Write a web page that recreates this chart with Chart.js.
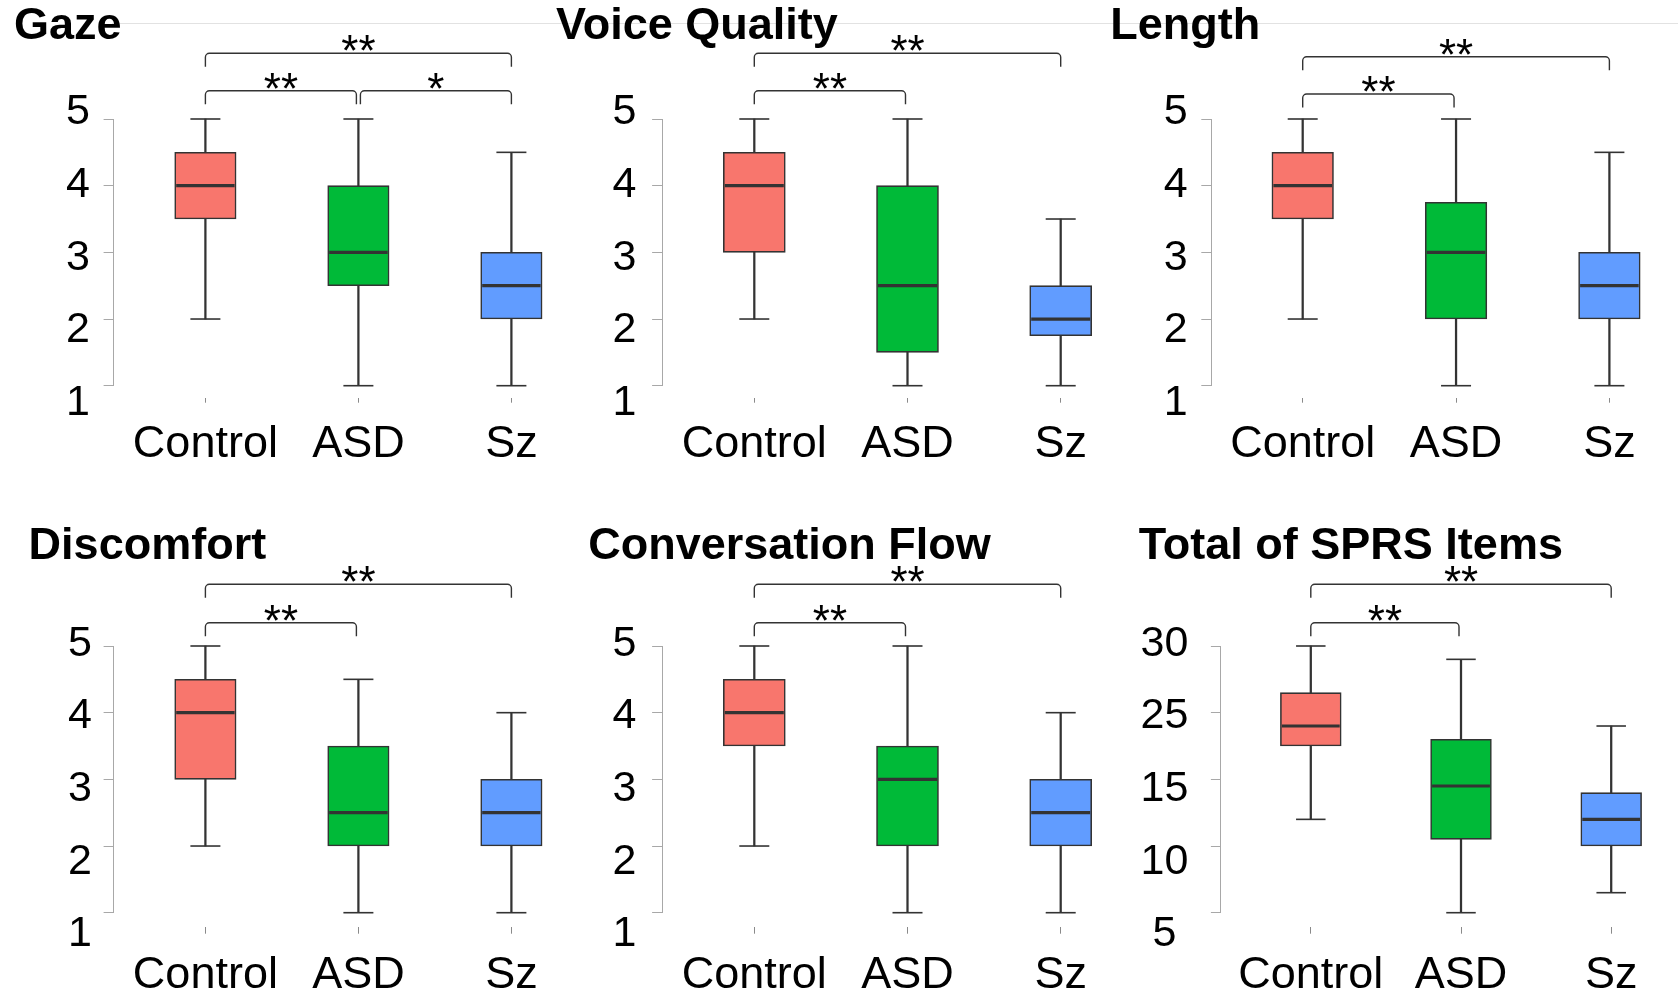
<!DOCTYPE html>
<html>
<head>
<meta charset="utf-8">
<script src="https://cdn.jsdelivr.net/npm/chart.js@4.4.1/dist/chart.umd.min.js"></script>
<style>
  body { margin: 0; background: #fff; width: 1678px; height: 999px; overflow: hidden; position: relative; }
  .cell { position: absolute; }
  .rule { position: absolute; left: 112px; top: 23px; width: 1566px; height: 1px; background: #e2e2e2; }
</style>
</head>
<body>
<div class="rule"></div>
<script>
// groups on the x axis
const groups = ['Control', 'ASD', 'Sz'];

// box summaries per group: [min, q1, median, q3, max]
const gaze = [[2, 3.5, 4, 4.5, 5], [1, 2.5, 3, 4, 5], [1, 2, 2.5, 3, 4.5]];
const voice = [[2, 3, 4, 4.5, 5], [1, 1.5, 2.5, 4, 5], [1, 1.75, 2, 2.5, 3.5]];
const length = [[2, 3.5, 4, 4.5, 5], [1, 2, 3, 3.75, 5], [1, 2, 2.5, 3, 4.5]];
const discomfort = [[2, 3, 4, 4.5, 5], [1, 2, 2.5, 3.5, 4.5], [1, 2, 2.5, 3, 4]];
const flow = [[2, 3.5, 4, 4.5, 5], [1, 2, 3, 3.5, 5], [1, 2, 2.5, 3, 4]];
const sprs = [[17, 22.5, 24, 26.5, 30], [10, 15.5, 19.5, 23, 29], [11.5, 15, 17, 19, 24]];

// significance brackets: [from group, to group, mark]
const gazeSig = [[0, 1, '**'], [1, 2, '*'], [0, 2, '**']];
const voiceSig = [[0, 1, '**'], [0, 2, '**']];
const lengthSig = [[0, 1, '**'], [0, 2, '**']];
const discomfortSig = [[0, 1, '**'], [0, 2, '**']];
const flowSig = [[0, 1, '**'], [0, 2, '**']];
const sprsSig = [[0, 1, '**'], [0, 2, '**']];

// y ticks (the SPRS labels are printed as in the original figure)
const scoreTicks = [5, 4, 3, 2, 1];
const scoreTickLabels = ['5', '4', '3', '2', '1'];
const sprsTicks = [30, 25, 20, 15, 10];
const sprsTickLabels = ['30', '25', '15', '10', '5'];

const boxColors = ['#F8766D', '#00BA38', '#619CFF'];
const ink = '#333333';
const FONT = '"Liberation Sans", Arial, Helvetica, sans-serif';
Chart.defaults.font.family = FONT;

const TITLE_SIZE = 45;
const X_H = 80;

const rows = [
  { titleBase: 42, tickGap: 12, tickLen: 5, labOff: -6.5 },
  { titleBase: 561.7, tickGap: 14, tickLen: 7, labOff: -2 }
];

const panels = [
  { title: 'Gaze', stats: gaze, sig: gazeSig, ticks: scoreTicks, labels: scoreTickLabels, row: 0,
    cell: [0, 0, 560, 500], titleX: 14, axisX: 113.6, cat0: 205.4, cat2: 511.4, top: 119, bottom: 385.7,
    labCX: 78, boxW: 61.4, capW: 30, brk: [28.3, 65.7] },
  { title: 'Voice Quality', stats: voice, sig: voiceSig, ticks: scoreTicks, labels: scoreTickLabels, row: 0,
    cell: [545, 0, 565, 500], titleX: 556, axisX: 662.1, cat0: 754.3, cat2: 1060.7, top: 119, bottom: 385.7,
    labCX: 624.5, boxW: 62, capW: 30, brk: [28.3, 65.7] },
  { title: 'Length', stats: length, sig: lengthSig, ticks: scoreTicks, labels: scoreTickLabels, row: 0,
    cell: [1100, 0, 578, 500], titleX: 1110.3, axisX: 1211.3, cat0: 1302.7, cat2: 1609.4, top: 119, bottom: 385.7,
    labCX: 1175.6, boxW: 61.6, capW: 30, brk: [25, 62.3] },
  { title: 'Discomfort', stats: discomfort, sig: discomfortSig, ticks: scoreTicks, labels: scoreTickLabels, row: 1,
    cell: [0, 500, 560, 499], titleX: 28.6, axisX: 113.6, cat0: 205.4, cat2: 511.4, top: 646, bottom: 912.7,
    labCX: 80, boxW: 61.4, capW: 30, brk: [23.3, 61.7] },
  { title: 'Conversation Flow', stats: flow, sig: flowSig, ticks: scoreTicks, labels: scoreTickLabels, row: 1,
    cell: [545, 500, 565, 499], titleX: 588.2, axisX: 662.1, cat0: 754.3, cat2: 1060.7, top: 646, bottom: 912.7,
    labCX: 624.5, boxW: 62, capW: 30, brk: [23.3, 61.7] },
  { title: 'Total of SPRS Items', stats: sprs, sig: sprsSig, ticks: sprsTicks, labels: sprsTickLabels, row: 1,
    cell: [1100, 500, 578, 499], titleX: 1138.7, axisX: 1220.9, cat0: 1310.8, cat2: 1611.2, top: 646, bottom: 912.7,
    labCX: 1164.5, boxW: 60.8, capW: 29.5, brk: [23.3, 61.7] }
];

// y tick labels (slightly spread, as in the source) and significance brackets
const extras = {
  id: 'extras',
  afterDraw(chart, args, o) {
    const { ctx, chartArea, scales: { x, y } } = chart;
    ctx.save();
    ctx.fillStyle = '#000';
    ctx.font = '43px ' + FONT;
    ctx.textAlign = 'center';
    ctx.textBaseline = 'middle';
    o.ticks.forEach((v, k) => {
      const py = y.getPixelForValue(v);
      const ly = chartArea.top + o.labOff + (py - chartArea.top) * 1.089;
      ctx.fillText(o.labels[k], o.labCX, ly);
    });

    ctx.strokeStyle = ink;
    ctx.lineWidth = 1.4;
    ctx.font = '44px ' + FONT;
    ctx.textBaseline = 'alphabetic';
    o.sig.forEach(([a, b, mark]) => {
      const ly = chartArea.top - (b - a > 1 ? o.brk[1] : o.brk[0]);
      const x1 = x.getPixelForValue(a) + (a === 1 ? 2 : 0);
      const x2 = x.getPixelForValue(b) - (b === 1 ? 2 : 0);
      const r = 4, drop = 13.5;
      ctx.beginPath();
      ctx.moveTo(x1, ly + drop);
      ctx.lineTo(x1, ly + r);
      ctx.arcTo(x1, ly, x1 + r, ly, r);
      ctx.lineTo(x2 - r, ly);
      ctx.arcTo(x2, ly, x2, ly + r, r);
      ctx.lineTo(x2, ly + drop);
      ctx.stroke();
      ctx.fillText(mark, (x1 + x2) / 2, ly - 12 + 0.57 * 44);
    });
    ctx.restore();
  }
};

panels.forEach(p => {
  const [cx, cy, cw, ch] = p.cell;
  const row = rows[p.row];
  const wrap = document.createElement('div');
  wrap.className = 'cell';
  wrap.style.left = cx + 'px';
  wrap.style.top = cy + 'px';
  wrap.style.width = cw + 'px';
  wrap.style.height = ch + 'px';
  const canvas = document.createElement('canvas');
  wrap.appendChild(canvas);
  document.body.appendChild(wrap);

  const step = (p.cat2 - p.cat0) / 2;
  const rightPx = p.cat2 + 40;
  const titleMid = row.titleBase - cy - 0.3465 * TITLE_SIZE;
  const titleTop = titleMid - TITLE_SIZE * 0.6;
  const titleBottom = (p.top - cy) - titleTop - TITLE_SIZE * 1.2;

  const whiskers = p.stats.map((s, i) => ({ x: i, y: [s[0], s[4]] }));
  const boxes = p.stats.map((s, i) => ({ x: i, y: [s[1], s[3]] }));
  const caps = p.stats.flatMap((s, i) => [{ x: i, y: s[0] }, { x: i, y: s[4] }]);
  const medians = p.stats.map((s, i) => ({ x: i, y: s[2] }));

  new Chart(canvas, {
    type: 'bar',
    data: {
      datasets: [
        { data: whiskers, backgroundColor: ink, barThickness: 1.6, grouped: false, order: 3, clip: false },
        { data: boxes, backgroundColor: boxColors, borderColor: ink, borderWidth: 1.6, borderSkipped: false,
          barThickness: p.boxW, grouped: false, order: 2, clip: false },
        { type: 'line', data: caps, showLine: false, pointStyle: 'line', pointRadius: p.capW / 2,
          pointBorderColor: ink, borderColor: ink, pointBorderWidth: 1.6, order: 1, clip: false },
        { type: 'line', data: medians, showLine: false, pointStyle: 'line', pointRadius: (p.boxW - 3) / 2,
          pointBorderColor: ink, borderColor: ink, pointBorderWidth: 3.2, order: 0, clip: false }
      ]
    },
    options: {
      responsive: true,
      maintainAspectRatio: false,
      animation: false,
      events: [],
      layout: {
        autoPadding: false,
        padding: { left: p.titleX - cx, right: cw - (rightPx - cx), top: 0, bottom: ch - (p.bottom - cy) - X_H }
      },
      scales: {
        x: {
          type: 'linear',
          offset: false,
          min: -(p.cat0 - p.axisX) / step,
          max: 2 + 40 / step,
          afterBuildTicks: s => { s.ticks = groups.map((g, i) => ({ value: i })); },
          afterFit: s => { s.height = X_H; },
          border: { display: false },
          grid: {
            offset: false, drawOnChartArea: false, tickLength: row.tickGap + row.tickLen,
            tickColor: '#8a8a8a', tickWidth: 1, tickBorderDash: [0, row.tickGap, row.tickLen, 300]
          },
          ticks: {
            callback: v => groups[v], color: '#000', font: { size: 45 }, padding: 15,
            maxRotation: 0, autoSkip: false
          }
        },
        y: {
          min: Math.min(...p.ticks),
          max: Math.max(...p.ticks),
          afterBuildTicks: s => { s.ticks = p.ticks.map(v => ({ value: v })); },
          afterFit: s => { s.width = p.axisX - p.titleX; },
          border: { display: true, color: '#a8a8a8', width: 1 },
          grid: { drawOnChartArea: false, tickLength: 10, color: '#a8a8a8' },
          ticks: { display: false }
        }
      },
      plugins: {
        legend: { display: false },
        tooltip: { enabled: false },
        title: {
          display: true, text: p.title, align: 'start', color: '#000',
          font: { size: TITLE_SIZE, weight: 'bold', lineHeight: 1.2 },
          padding: { top: titleTop, bottom: titleBottom }
        },
        extras: { ticks: p.ticks, labels: p.labels, labCX: p.labCX - cx, labOff: row.labOff, sig: p.sig, brk: p.brk }
      }
    },
    plugins: [extras]
  });
});
</script>
</body>
</html>
